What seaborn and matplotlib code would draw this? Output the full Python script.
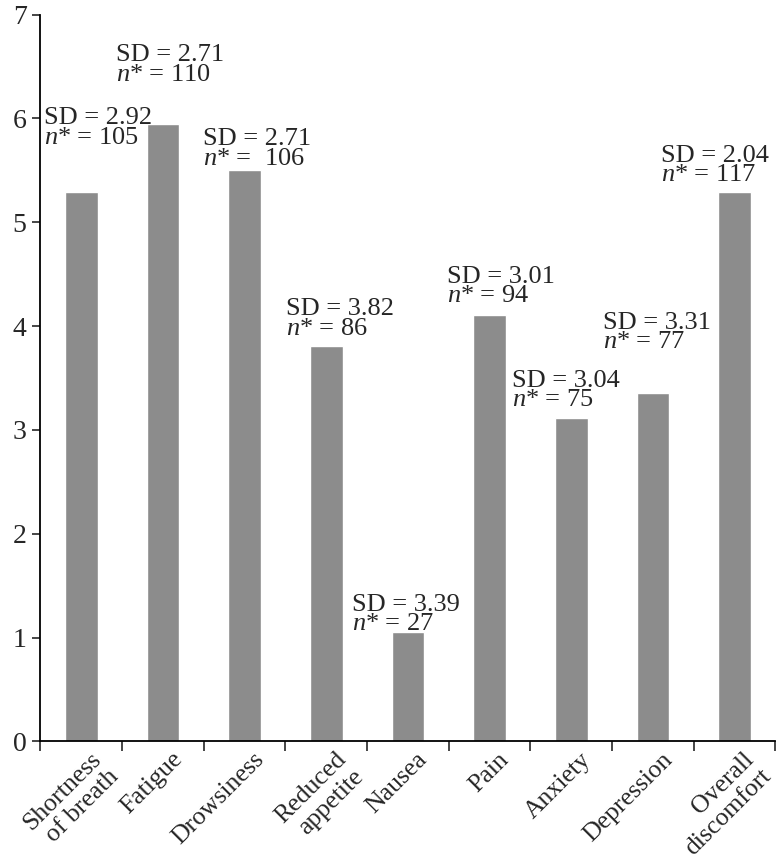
import matplotlib
matplotlib.use("Agg")
import matplotlib.pyplot as plt
import matplotlib.transforms as mtransforms
import seaborn as sns
import pandas as pd

# Datos
symptoms = ["Shortness\nof breath", "Fatigue", "Drowsiness", "Reduced\nappetite", "Nausea",
            "Pain", "Anxiety", "Depression", "Overall\ndiscomfort"]
means = [5.29, 5.95, 5.50, 3.81, 1.05, 4.11, 3.11, 3.36, 5.29]
sds = ["2.92", "2.71", "2.71", "3.82", "3.39", "3.01", "3.04", "3.31", "2.04"]
ns = ["105", "110", " 106", "86", "27", "94", "75", "77", "117"]

sns.set_style("ticks")
plt.rcParams['font.family'] = ['Liberation Serif', 'DejaVu Serif']
plt.rcParams['mathtext.fontset'] = 'custom'
plt.rcParams['mathtext.rm'] = 'Liberation Serif'
plt.rcParams['mathtext.it'] = 'Liberation Serif:italic'

df = pd.DataFrame({'symptom': symptoms, 'mean': means})

fig = plt.figure(figsize=(7.77, 8.63), dpi=100)
ax = fig.add_axes([0.052, 0.141, 0.946, 0.842])
sns.barplot(data=df, x='symptom', y='mean', color='#8c8c8c', saturation=1, width=0.4, ax=ax)

# desplazamiento de las etiquetas (puntos) respecto al centro/tope de cada barra
offsets = [(-27, 35), (-34, 31), (-30, 4), (-29, 8), (-40, 1.5), (-31, 9), (-43, 9), (-36, 32), (-53, 8)]
for i, (m, sd, n) in enumerate(zip(means, sds, ns)):
    ax.annotate(f"SD = {sd}\n$n$* = {n}", xy=(i, m), xytext=offsets[i], textcoords='offset points',
                ha='left', va='baseline', fontsize=19, linespacing=0.85)

ax.set_xlim(-0.5, 8.5)
ax.set_ylim(0, 7)
ax.set_yticks(range(0, 8))
ax.set_xticks([x - 0.5 for x in range(10)], minor=True)
ax.tick_params(axis='x', which='major', length=0, pad=5)
ax.tick_params(axis='x', which='minor', length=7, width=1.2, direction='out')
ax.tick_params(axis='y', length=6, width=1.2, direction='out', labelsize=20, pad=4)
ax.set_xticks(range(len(symptoms)))
ax.set_xticklabels(symptoms, rotation=45, ha='right', rotation_mode='anchor', fontsize=18.5)
shift = mtransforms.ScaledTranslation(6 / 72, 0, fig.dpi_scale_trans)
for lbl in ax.get_xticklabels():
    lbl.set_multialignment('right')
    lbl.set_linespacing(1.15)
    lbl.set_transform(lbl.get_transform() + shift)
ax.set_xlabel('')
ax.set_ylabel('')
for s in ['left', 'bottom']:
    ax.spines[s].set_linewidth(1.3)
    ax.spines[s].set_color('black')
sns.despine(ax=ax)

fig.savefig('out.png', dpi=100)
